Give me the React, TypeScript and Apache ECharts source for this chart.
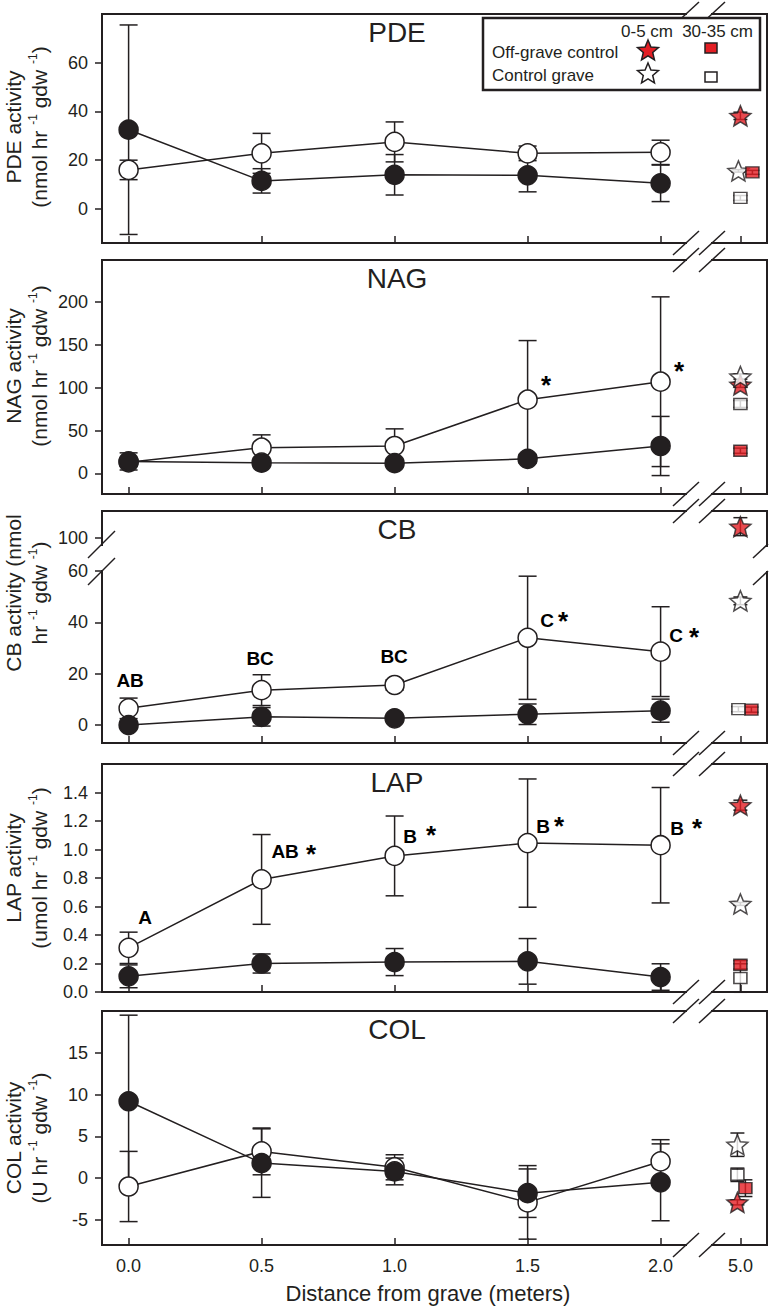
import React, { useEffect, useRef } from 'react';
import * as echarts from 'echarts';

// ---------- data ----------
const distances = [0, 0.5, 1.0, 1.5, 2.0];
const xTickLabels = ['0.0', '0.5', '1.0', '1.5', '2.0', '5.0'];
const controlLabels = ['Off-grave control 0-5 cm', 'Control grave 0-5 cm', 'Off-grave control 30-35 cm', 'Control grave 30-35 cm'];

// PDE (open = 0-5 cm, filled = 30-35 cm)
const pdeShallowMean = [16, 22.8, 27.5, 22.8, 23.2];
const pdeShallowErr = [4, 8.2, 8.2, 3, 5];
const pdeDeepMean = [32.5, 11.5, 14, 13.8, 10.5];
const pdeDeepErr = [43, 5, 8.3, 6.8, 7.5];
const pdeControlMean = [38.2, 15.6, 15, 4.5];
const pdeControlErr = [1.5, 0.5, 0.8, 1];

// NAG
const nagShallowMean = [13, 30, 32, 86, 107];
const nagShallowErr = [3, 15, 20, 69, 99];
const nagDeepMean = [14, 12.5, 12, 17, 32];
const nagDeepErr = [10, 4, 3, 5, 34.5];
const nagControlMean = [103.4, 113, 26.5, 81];
const nagControlErr = [3, 3, 3, 4];
const nagGroups = ['', '', '', '', ''];
const nagSignificant = [false, false, false, true, true];

// CB
const cbShallowMean = [6.5, 13.6, 15.6, 34, 28.6];
const cbShallowErr = [4, 6, 2, 24, 17.5];
const cbDeepMean = [0, 3.2, 2.6, 4.2, 5.6];
const cbDeepErr = [1, 3.6, 1, 4, 4.5];
const cbControlMean = [104.4, 48.4, 6, 6.2];
const cbControlErr = [3.5, 1.5, 1, 1];
const cbGroups = ['AB', 'BC', 'BC', 'C', 'C'];
const cbSignificant = [false, false, false, true, true];

// LAP
const lapShallowMean = [0.31, 0.79, 0.955, 1.045, 1.03];
const lapShallowErr = [0.11, 0.315, 0.28, 0.45, 0.405];
const lapDeepMean = [0.11, 0.2, 0.21, 0.215, 0.105];
const lapDeepErr = [0.08, 0.067, 0.095, 0.16, 0.093];
const lapControlMean = [1.311, 0.618, 0.191, 0.098];
const lapControlErr = [0.035, 0.01, 0.03, 0.1];
const lapGroups = ['A', 'AB', 'B', 'B', 'B'];
const lapSignificant = [false, true, true, true, true];

// COL
const colShallowMean = [-1.0, 3.2, 1.3, -2.9, 2.0];
const colShallowErr = [4.2, 2.8, 1.5, 4.4, 2.6];
const colDeepMean = [9.2, 1.8, 0.8, -1.8, -0.5];
const colDeepErr = [10.3, 4.1, 1.6, 2.9, 4.6];
const colControlMean = [-2.9, 4.0, -1.2, 0.4];
const colControlErr = [0.3, 1.4, 1.0, 0.8];

// ---------- styling / layout ----------
const INK = '#231f20';
const RED = '#e31e24';
const FONT = '"Liberation Sans", Arial, Helvetica, sans-serif';
const CONTROL_POS = 2.3; // where "5.0" sits on the broken x axis
const xTickPositions = [...distances, CONTROL_POS];

const starPath = (() => {
  const pts: string[] = [];
  for (let i = 0; i < 10; i++) {
    const a = -Math.PI / 2 + (i * Math.PI) / 5;
    const r = i % 2 === 0 ? 1 : 0.45;
    pts.push(`${(r * Math.cos(a)).toFixed(4)},${(r * Math.sin(a)).toFixed(4)}`);
  }
  return 'path://M' + pts.join(' L') + ' Z';
})();

const controlStyles = [
  { symbol: starPath, size: [21, 20], fill: RED },
  { symbol: starPath, size: [21, 20], fill: '#ffffff' },
  { symbol: 'rect', size: [13, 11], fill: RED },
  { symbol: 'rect', size: [13, 11], fill: '#ffffff' },
];

const cbBreak = (v: number) => (v > 60 ? 72.9 + (v - 100) : v);
const identity = (v: number) => v;

const panels = [
  {
    title: 'PDE', name1: 'PDE activity', name2: '(nmol hr {s|-1} gdw {s|-1})', nameY: 127,
    top: 14, bottom: 243, min: -14, max: 80, ticks: [0, 20, 40, 60], tickText: (v: number) => String(Math.round(v)),
    sMean: pdeShallowMean, sErr: pdeShallowErr, dMean: pdeDeepMean, dErr: pdeDeepErr,
    cMean: pdeControlMean, cErr: pdeControlErr, cOffset: [0, -2, 12, 0], tf: identity,
    groups: null as any, sig: null as any, gOff: [] as number[][], sOff: [] as number[][],
  },
  {
    title: 'NAG', name1: 'NAG activity', name2: '(nmol hr {s|-1} gdw {s|-1})', nameY: 366,
    top: 260, bottom: 494, min: -24, max: 249, ticks: [0, 50, 100, 150, 200], tickText: (v: number) => String(Math.round(v)),
    sMean: nagShallowMean, sErr: nagShallowErr, dMean: nagDeepMean, dErr: nagDeepErr,
    cMean: nagControlMean, cErr: nagControlErr, cOffset: [0, 0, 0, 0], tf: identity,
    groups: nagGroups, sig: nagSignificant, gOff: [[0, 0], [0, 0], [0, 0], [0, 0], [0, 0]],
    sOff: [[0, 0], [0, 0], [0, 0], [19, -14], [19, -10]],
  },
  {
    title: 'CB', name1: 'CB activity (nmol', name2: 'hr {s|-1} gdw {s|-1})', nameY: 593,
    top: 511, bottom: 743, min: -7, max: 83.4, ticks: [0, 20, 40, 60, 72.9],
    tickText: (v: number) => (Math.abs(v - 72.9) < 0.01 ? '100' : String(Math.round(v))),
    sMean: cbShallowMean, sErr: cbShallowErr, dMean: cbDeepMean, dErr: cbDeepErr,
    cMean: cbControlMean, cErr: cbControlErr, cOffset: [0, 0, 11, -2], tf: cbBreak,
    groups: cbGroups, sig: cbSignificant, gOff: [[2, -27], [-1, -31], [0, -28], [20, -17], [16, -16]],
    sOff: [[0, 0], [0, 0], [0, 0], [36, -16], [34, -14]],
  },
  {
    title: 'LAP', name1: 'LAP activity', name2: '(umol hr {s|-1} gdw {s|-1})', nameY: 868,
    top: 764, bottom: 992, min: 0, max: 1.6, ticks: [0, 0.2, 0.4, 0.6, 0.8, 1.0, 1.2, 1.4], tickText: (v: number) => v.toFixed(1),
    sMean: lapShallowMean, sErr: lapShallowErr, dMean: lapDeepMean, dErr: lapDeepErr,
    cMean: lapControlMean, cErr: lapControlErr, cOffset: [0, 0, 0, 0], tf: identity,
    groups: lapGroups, sig: lapSignificant, gOff: [[17, -30], [24, -27], [16, -19], [16, -16], [17, -16]],
    sOff: [[0, 0], [50, -25], [37, -20], [32, -17], [37, -17]],
  },
  {
    title: 'COL', name1: 'COL activity', name2: '(U hr {s|-1} gdw {s|-1})', nameY: 1138,
    top: 1011, bottom: 1245, min: -8, max: 20, ticks: [-5, 0, 5, 10, 15], tickText: (v: number) => String(Math.round(v)),
    sMean: colShallowMean, sErr: colShallowErr, dMean: colDeepMean, dErr: colDeepErr,
    cMean: colControlMean, cErr: colControlErr, cOffset: [-3, -3, 5, -3], tf: identity,
    groups: null as any, sig: null as any, gOff: [] as number[][], sOff: [] as number[][],
  },
];

const GRID_LEFT = 102;
const GRID_RIGHT = 767;

function buildOption() {
  const grids: any[] = [];
  const xAxes: any[] = [];
  const yAxes: any[] = [];
  const series: any[] = [];
  const graphics: any[] = [];

  panels.forEach((p, i) => {
    grids.push({
      left: GRID_LEFT, width: GRID_RIGHT - GRID_LEFT, top: p.top, height: p.bottom - p.top,
      show: true, borderColor: INK, borderWidth: 2, backgroundColor: 'transparent',
    });
    xAxes.push({
      type: 'value', gridIndex: i, min: -0.1, max: 2.4, position: 'bottom',
      axisLine: { show: false, onZero: false }, splitLine: { show: false },
      axisTick: { show: true, inside: true, length: 7, customValues: xTickPositions, lineStyle: { color: INK, width: 1.5 } },
      axisLabel: {
        show: i === panels.length - 1, customValues: xTickPositions, margin: 12,
        fontSize: 18, color: INK, fontFamily: FONT,
        formatter: (v: number) => {
          const k = xTickPositions.findIndex((q) => Math.abs(q - v) < 1e-6);
          return k >= 0 ? xTickLabels[k] : '';
        },
      },
    });
    yAxes.push({
      type: 'value', gridIndex: i, min: p.min, max: p.max, position: 'left',
      axisLine: { show: false, onZero: false }, splitLine: { show: false },
      axisTick: { show: true, inside: false, length: 7, customValues: p.ticks, lineStyle: { color: INK, width: 1.5 } },
      axisLabel: { customValues: p.ticks, margin: 14, fontSize: 18, color: INK, fontFamily: FONT, formatter: p.tickText },
    });

    // error bars
    const errData: number[][] = [];
    distances.forEach((d, k) => {
      errData.push([d, p.tf(p.sMean[k] - p.sErr[k]), p.tf(p.sMean[k] + p.sErr[k]), 0, 9]);
      errData.push([d, p.tf(p.dMean[k] - p.dErr[k]), p.tf(p.dMean[k] + p.dErr[k]), 0, 9]);
    });
    p.cMean.forEach((m, k) => {
      errData.push([CONTROL_POS, p.tf(m - p.cErr[k]), p.tf(m + p.cErr[k]), p.cOffset[k], 7]);
    });
    series.push({
      type: 'custom', name: p.title + ' error', xAxisIndex: i, yAxisIndex: i, z: 1, clip: false,
      data: errData,
      encode: { x: 0, y: [1, 2] },
      renderItem: (params: any, api: any) => {
        const x = api.value(0), lo = api.value(1), hi = api.value(2), dx = api.value(3), w = api.value(4);
        const a = api.coord([x, hi]);
        const b = api.coord([x, lo]);
        const cx = a[0] + dx;
        const style = { stroke: INK, lineWidth: 1.5 };
        return {
          type: 'group',
          children: [
            { type: 'line', shape: { x1: cx, y1: a[1], x2: cx, y2: b[1] }, style },
            { type: 'line', shape: { x1: cx - w, y1: a[1], x2: cx + w, y2: a[1] }, style },
            { type: 'line', shape: { x1: cx - w, y1: b[1], x2: cx + w, y2: b[1] }, style },
          ],
        };
      },
    });

    series.push({
      type: 'line', name: p.title + ' 0-5 cm', xAxisIndex: i, yAxisIndex: i, z: 2,
      data: distances.map((d, k) => [d, p.tf(p.sMean[k])]),
      symbol: 'circle', symbolSize: 19, showSymbol: true,
      itemStyle: { color: '#ffffff', borderColor: INK, borderWidth: 1.5 },
      lineStyle: { color: INK, width: 1.5 },
    });
    series.push({
      type: 'line', name: p.title + ' 30-35 cm', xAxisIndex: i, yAxisIndex: i, z: 3,
      data: distances.map((d, k) => [d, p.tf(p.dMean[k])]),
      symbol: 'circle', symbolSize: 19, showSymbol: true,
      itemStyle: { color: INK, borderColor: INK, borderWidth: 1.5 },
      lineStyle: { color: INK, width: 1.5 },
    });
    series.push({
      type: 'scatter', name: p.title + ' controls', xAxisIndex: i, yAxisIndex: i, z: 4,
      data: p.cMean.map((m, k) => ({
        name: controlLabels[k],
        value: [CONTROL_POS, p.tf(m)],
        symbol: controlStyles[k].symbol,
        symbolSize: controlStyles[k].size,
        symbolOffset: [p.cOffset[k], 0],
        itemStyle: { color: controlStyles[k].fill, borderColor: INK, borderWidth: 1.5 },
      })),
    });

    if (p.groups) {
      const ann: any[] = [];
      const base = { show: true, position: [0, 0], align: 'center', verticalAlign: 'middle', color: '#000000', fontFamily: FONT, fontWeight: 'bold', opacity: 1 };
      distances.forEach((d, k) => {
        const y = p.tf(p.sMean[k]);
        if (p.groups[k]) {
          ann.push({ value: [d, y], label: { ...base, formatter: p.groups[k], offset: p.gOff[k], fontSize: 19 } });
        }
        if (p.sig[k]) {
          ann.push({ value: [d, y], label: { ...base, formatter: '*', offset: p.sOff[k], fontSize: 26 } });
        }
      });
      series.push({
        type: 'scatter', name: p.title + ' significance', xAxisIndex: i, yAxisIndex: i, z: 5,
        symbolSize: 1, itemStyle: { color: '#ffffff', opacity: 0 }, silent: true,
        label: base,
        data: ann,
      });
    }

    // panel title
    graphics.push({
      type: 'text', x: 397, y: p.top + 18, z: 50,
      style: { text: p.title, fontSize: 28, fill: INK, fontFamily: FONT, align: 'center', verticalAlign: 'middle' },
    });
    // y names
    graphics.push({
      type: 'text', x: 13, y: p.nameY, rotation: Math.PI / 2, z: 50,
      style: { text: p.name1, fontSize: 21, fill: INK, fontFamily: FONT, align: 'center', verticalAlign: 'middle' },
    });
    graphics.push({
      type: 'text', x: 39, y: p.nameY, rotation: Math.PI / 2, z: 50,
      style: {
        text: p.name2, fontSize: 21, fill: INK, fontFamily: FONT, align: 'center', verticalAlign: 'middle',
        rich: { s: { fontSize: 12, fill: INK, fontFamily: FONT, verticalAlign: 'top', lineHeight: 24 } },
      },
    });

    // x-axis break marks on top and bottom edges
    [p.top, p.bottom].forEach((ey) => {
      graphics.push({ type: 'rect', z: 60, shape: { x: 687, y: ey - 3, width: 24, height: 6 }, style: { fill: '#ffffff' } });
      [686, 712].forEach((cx) => {
        graphics.push({
          type: 'line', z: 61,
          shape: { x1: cx - 13, y1: ey + 12, x2: cx + 13, y2: ey - 12 },
          style: { stroke: INK, lineWidth: 1.5 },
        });
      });
    });
  });

  // CB y-axis break
  graphics.push({ type: 'rect', z: 60, shape: { x: GRID_LEFT - 3, y: 546, width: 6, height: 24 }, style: { fill: '#ffffff' } });
  graphics.push({ type: 'rect', z: 60, shape: { x: GRID_RIGHT - 3, y: 547, width: 6, height: 24 }, style: { fill: '#ffffff' } });
  [[88, 558, 115, 531], [88, 585, 115, 558], [753, 558, 768, 544], [753, 585, 768, 571]].forEach((s) => {
    graphics.push({ type: 'line', z: 61, shape: { x1: s[0], y1: s[1], x2: s[2], y2: s[3] }, style: { stroke: INK, lineWidth: 1.5 } });
  });

  // x axis title
  graphics.push({
    type: 'text', x: 428, y: 1293, z: 50,
    style: { text: 'Distance from grave (meters)', fontSize: 22, fill: INK, fontFamily: FONT, align: 'center', verticalAlign: 'middle' },
  });

  // legend
  const starPts = (cx: number, cy: number, R: number) => {
    const pts: number[][] = [];
    for (let i = 0; i < 10; i++) {
      const a = -Math.PI / 2 + (i * Math.PI) / 5;
      const r = i % 2 === 0 ? R : R * 0.45;
      pts.push([cx + r * Math.cos(a), cy + r * Math.sin(a)]);
    }
    return pts;
  };
  graphics.push({ type: 'rect', z: 70, shape: { x: 483, y: 18, width: 277, height: 72 }, style: { fill: '#ffffff', stroke: INK, lineWidth: 2.5 } });
  graphics.push({ type: 'text', z: 71, x: 673, y: 31, style: { text: '0-5 cm', fontSize: 17, fill: INK, fontFamily: FONT, align: 'right', verticalAlign: 'middle' } });
  graphics.push({ type: 'text', z: 71, x: 753, y: 31, style: { text: '30-35 cm', fontSize: 17, fill: INK, fontFamily: FONT, align: 'right', verticalAlign: 'middle' } });
  graphics.push({ type: 'text', z: 71, x: 492, y: 52, style: { text: 'Off-grave control', fontSize: 17, fill: INK, fontFamily: FONT, align: 'left', verticalAlign: 'middle' } });
  graphics.push({ type: 'text', z: 71, x: 492, y: 75, style: { text: 'Control grave', fontSize: 17, fill: INK, fontFamily: FONT, align: 'left', verticalAlign: 'middle' } });
  graphics.push({ type: 'polygon', z: 71, shape: { points: starPts(648, 51, 11) }, style: { fill: RED, stroke: INK, lineWidth: 1.5 } });
  graphics.push({ type: 'polygon', z: 71, shape: { points: starPts(648, 74, 11) }, style: { fill: '#ffffff', stroke: INK, lineWidth: 1.5 } });
  graphics.push({ type: 'rect', z: 71, shape: { x: 705, y: 43, width: 12, height: 10 }, style: { fill: RED, stroke: INK, lineWidth: 1.5 } });
  graphics.push({ type: 'rect', z: 71, shape: { x: 705, y: 72, width: 12, height: 10 }, style: { fill: '#ffffff', stroke: INK, lineWidth: 1.5 } });

  return {
    animation: false,
    backgroundColor: '#ffffff',
    textStyle: { fontFamily: FONT },
    grid: grids,
    xAxis: xAxes,
    yAxis: yAxes,
    series,
    graphic: graphics,
  };
}

export default function App() {
  const ref = useRef<HTMLDivElement>(null);
  useEffect(() => {
    if (!ref.current) return;
    const chart = echarts.init(ref.current, undefined, { renderer: 'svg' });
    chart.setOption(buildOption() as any);
    return () => chart.dispose();
  }, []);
  return (
    <div
      ref={ref}
      style={{ position: 'fixed', left: 0, top: 0, width: 780, height: 1308, background: '#fff' }}
    />
  );
}
